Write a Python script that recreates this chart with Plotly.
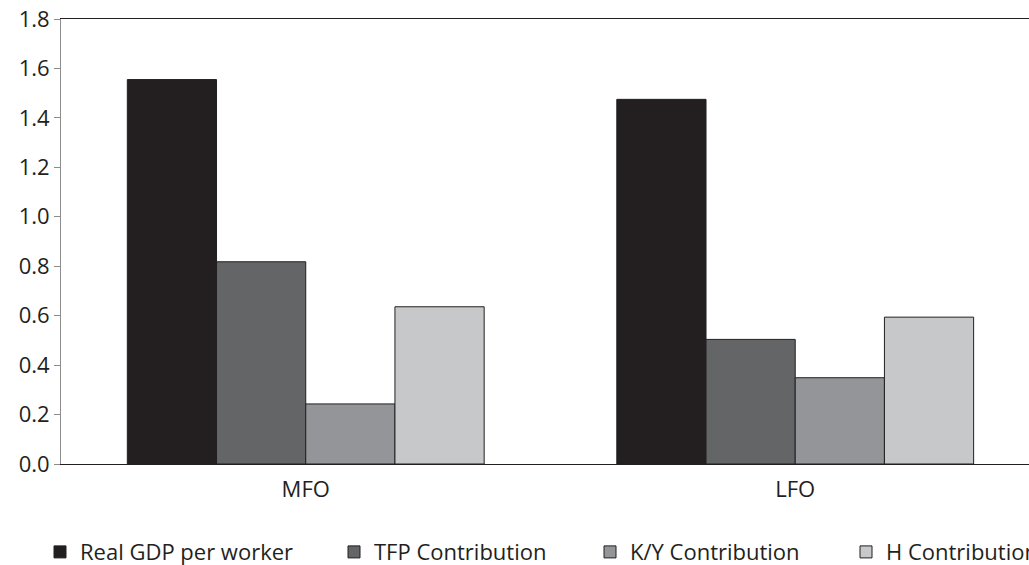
import plotly.graph_objects as go

categories = ["MFO", "LFO"]
series_names = ["Real GDP per worker", "TFP Contribution", "K/Y Contribution", "H Contribution"]
real_gdp = [1.555, 1.475]
tfp = [0.818, 0.504]
ky = [0.243, 0.349]
h_contrib = [0.636, 0.594]
y_ticks = [0.0, 0.2, 0.4, 0.6, 0.8, 1.0, 1.2, 1.4, 1.6, 1.8]
y_tick_labels = ["0.0", "0.2", "0.4", "0.6", "0.8", "1.0", "1.2", "1.4", "1.6", "1.8"]

colors = ["#231f20", "#646567", "#939598", "#c7c8ca"]
values = [real_gdp, tfp, ky, h_contrib]

FONT = "Open Sans"
TXT = "#231f20"
FS = 22

legend_ids = ["legend", "legend2", "legend3", "legend4"]
legend_x_px = [40, 334, 590, 846]

fig = go.Figure()
for name, vals, col, lid in zip(series_names, values, colors, legend_ids):
    fig.add_trace(go.Bar(
        x=categories, y=vals, name=name, legend=lid,
        marker=dict(color=col, line=dict(color="#231f20", width=1)),
    ))

layout_legends = {}
for lid, px in zip(legend_ids, legend_x_px):
    layout_legends[lid] = dict(
        orientation="h", xref="container", yref="container",
        x=px / 1029, y=0.06, xanchor="left", yanchor="top",
        font=dict(family=FONT, size=FS, color=TXT),
        bgcolor="rgba(0,0,0,0)",
    )

fig.update_layout(
    width=1029, height=565,
    margin=dict(l=61, r=0, t=19, b=101, autoexpand=False),
    paper_bgcolor="white", plot_bgcolor="white",
    barmode="group", bargap=0.271, bargroupgap=0,
    font=dict(family=FONT, size=FS, color=TXT),
    showlegend=True,
    **layout_legends,
)
fig.update_xaxes(
    type="category", range=[-0.5, 1.4776], automargin=False,
    showline=True, linecolor="#231f20", linewidth=1, mirror=True,
    ticks="", showgrid=False, ticklabelstandoff=6,
    tickfont=dict(family=FONT, size=FS, color=TXT),
)
fig.update_yaxes(
    range=[0, 1.8], tickvals=y_ticks, ticktext=y_tick_labels, automargin=False,
    showline=True, linecolor="#8c8c8c", linewidth=1,
    ticks="outside", ticklen=6, tickcolor="#8c8c8c",
    showgrid=False, zeroline=False,
    tickfont=dict(family=FONT, size=FS, color=TXT),
)

fig.write_html(
    "out.html",
    config={"displayModeBar": False},
    post_script="document.body.style.margin='0';document.body.style.overflow='hidden';",
)
